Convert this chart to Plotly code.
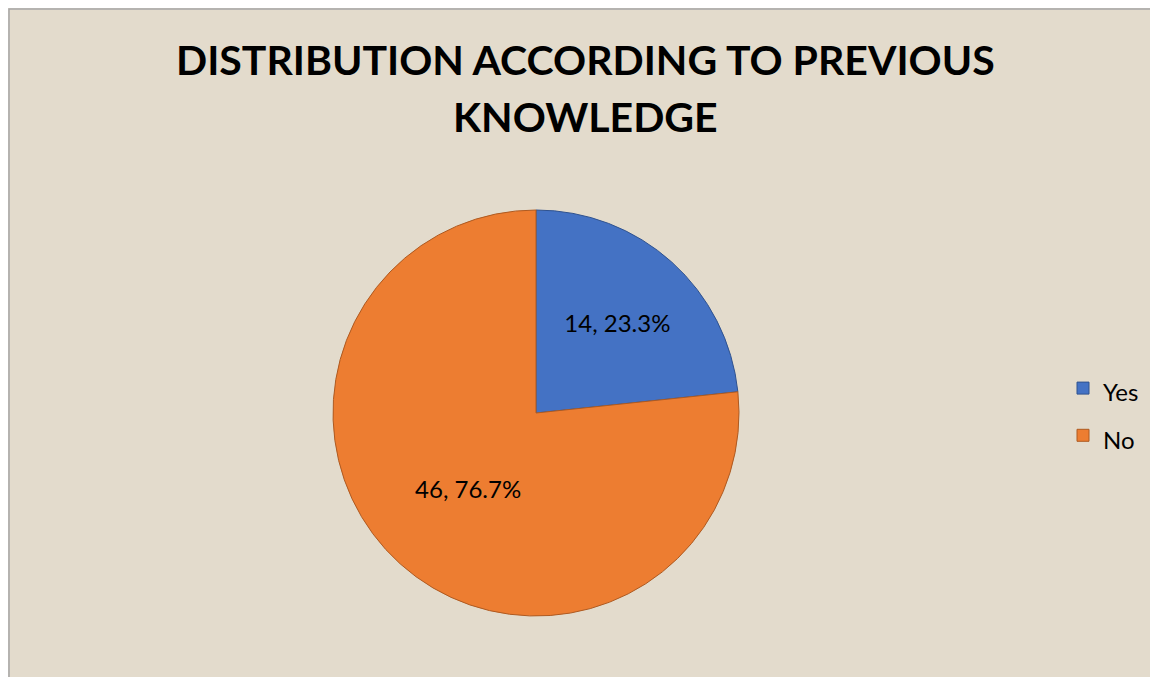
import plotly.graph_objects as go

labels = ["Yes", "No"]
values = [14, 46]
colors = ["#4472C4", "#ED7D31"]
edge_colors = ["#2F528F", "#AE5A21"]
title_lines = ["DISTRIBUTION ACCORDING TO PREVIOUS", "KNOWLEDGE"]

# the page has an 8px body margin, so the figure covers the rest of the window
W, H = 1150, 669
FONT = "Lato, Open Sans, sans-serif"
BG = "#E3DBCC"

legend_labels = [f"<span style='font-size:24px'>{lab}</span>" for lab in labels]

cx, cy, r = 528, 405, 203  # pie centre / radius in figure pixels

fig = go.Figure()
fig.add_trace(go.Pie(
    labels=legend_labels,
    values=values,
    sort=False,
    direction="clockwise",
    rotation=0,
    marker=dict(colors=colors, line=dict(color=edge_colors, width=1)),
    texttemplate="%{value}, %{percent:.1%}",
    textposition="inside",
    insidetextorientation="horizontal",
    textfont=dict(family=FONT, size=24, color="#000000"),
    hoverinfo="label+value+percent",
    domain=dict(x=[(cx - r) / W, (cx + r) / W], y=[(H - cy - r) / H, (H - cy + r) / H]),
))

fig.add_shape(type="rect", xref="paper", yref="paper",
              x0=1 / W, x1=1.02, y0=-0.02, y1=1 - 1 / H,
              line=dict(color="#A6A6A6", width=1.5), fillcolor=BG, layer="below")

for line, yc in zip(title_lines, [51, 109]):
    fig.add_annotation(text=f"<b>{line}</b>", xref="paper", yref="paper",
                       x=577 / W, y=1 - yc / H, xanchor="center", yanchor="middle",
                       showarrow=False, font=dict(family=FONT, size=41, color="#000000"))

fig.update_layout(
    width=W, height=H,
    margin=dict(l=0, r=0, t=0, b=0),
    paper_bgcolor=BG,
    plot_bgcolor=BG,
    showlegend=True,
    legend=dict(x=1055 / W, y=1 - 404 / H, xanchor="left", yanchor="middle",
                bgcolor="rgba(0,0,0,0)",
                font=dict(family=FONT, size=34, color="#000000")),
)

fig.write_html("out.html")
